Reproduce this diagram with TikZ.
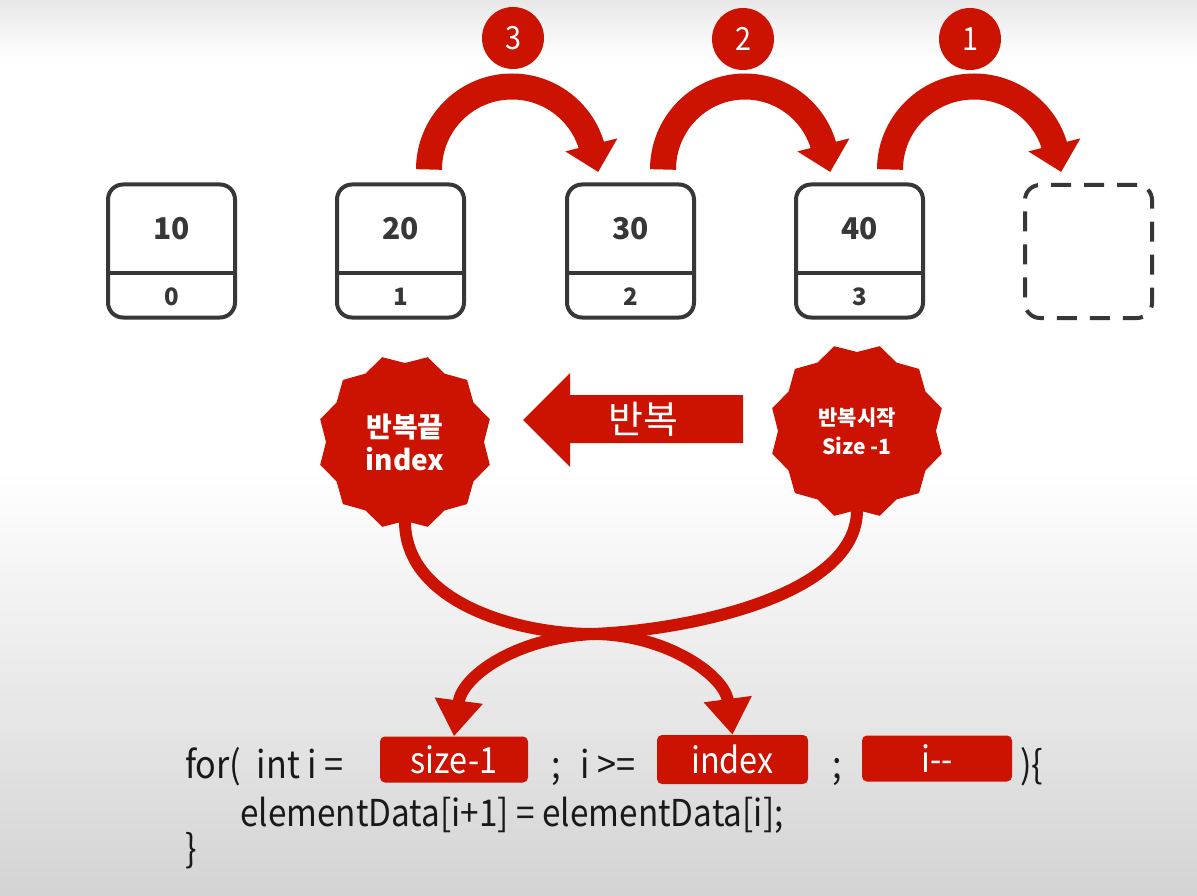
\documentclass[tikz,border=0pt]{standalone}
\usepackage{fontspec}
\setmainfont{Noto Sans CJK KR}
\newfontfamily\codefont[FakeStretch=0.9]{Noto Sans CJK KR}
\usetikzlibrary{shapes.geometric,arrows.meta,calc}
\definecolor{hred}{RGB}{204,18,0}
\definecolor{cellgray}{RGB}{55,55,55}
\begin{document}
\begin{tikzpicture}[x=1pt,y=-1pt,
  cell/.style={draw=cellgray,line width=4pt,rounded corners=15pt,minimum width=127pt,minimum height=133pt,inner sep=0pt},
  emptycell/.style={cell,dash pattern=on 20pt off 13pt},
  valtext/.style={text=cellgray,font=\bfseries\fontsize{30}{34}\selectfont},
  idxtext/.style={text=cellgray,font=\bfseries\fontsize{24}{28}\selectfont},
  numcirc/.style={circle,fill=hred,minimum size=62pt,inner sep=0pt,text=white,font=\codefont\fontsize{32}{36}\selectfont},
  bigarc/.style={draw=hred,line width=26pt,-{Triangle[width=52pt,length=28pt]}},
  burst/.style={star,star points=12,star point ratio=0.9,fill=hred,minimum size=158pt,inner sep=0pt,text=white,align=center},
  cross/.style={draw=hred,line width=12pt,-{Triangle[width=46pt,length=36pt]}},
  codebox/.style={fill=hred,rounded corners=5pt,minimum width=148pt,minimum height=46pt,inner sep=0pt,text=white,font=\codefont\fontsize{36}{40}\selectfont},
  code/.style={anchor=base west,inner sep=0pt,text=black!90,font=\codefont\fontsize{38}{44}\selectfont}
]
\useasboundingbox (0,0) rectangle (1197,896);
% background
\fill[white] (0,0) rectangle (1197,896);
\shade[top color=black!9,bottom color=white] (0,0) rectangle (1197,60);
\shade[top color=white,bottom color=black!17] (0,470) rectangle (1197,896);

% cells
\node[cell] (b1) at (171.5,251) {};
\node[cell] (b2) at (400.5,251) {};
\node[cell] (b3) at (630.5,251) {};
\node[cell] (b4) at (859.5,251) {};
\node[emptycell] (b5) at (1088.5,251.5) {};
\foreach \b in {b1,b2,b3,b4}{
  \draw[draw=cellgray,line width=4pt] ($(\b.west)+(0,22)$) -- ($(\b.east)+(0,22)$);
}
\node[valtext] (v1) at (171.5,229) {10};
\node[valtext] (v2) at (400.5,229) {20};
\node[valtext] (v3) at (630.5,229) {30};
\node[valtext] (v4) at (859.5,229) {40};
\node[idxtext] (i1) at (171.5,297) {0};
\node[idxtext] (i2) at (400.5,297) {1};
\node[idxtext] (i3) at (630.5,297) {2};
\node[idxtext] (i4) at (859.5,297) {3};

% top arcs
\draw[bigarc] ($(b2.north east)+(-37,-13)$) arc[start angle=180,end angle=345,x radius=83,y radius=83] -- ++(6,24);
\draw[bigarc] ($(b3.north east)+(-33,-13)$) arc[start angle=180,end angle=345,x radius=82,y radius=83] -- ++(6,24);
\draw[bigarc] ($(b4.north east)+(-35,-13)$) arc[start angle=180,end angle=345,x radius=84,y radius=83] -- ++(6,24);
\node[numcirc] (n3) at (513,38) {3};
\node[numcirc] (n2) at (743,39) {2};
\node[numcirc] (n1) at (970,39) {1};

% starbursts
\node[burst,font=\bfseries\fontsize{28}{33}\selectfont] (ls) at (405,442) {반복끝\\index};
\node[burst,font=\bfseries\fontsize{21}{29}\selectfont] (rs) at (857,431) {반복시작\\Size -1};

% left arrow
\fill[hred] (743,395) -- (570,395) -- (570,373) -- (523,420) -- (570,467) -- (570,443) -- (743,443) -- cycle;
\node[text=white,font=\fontsize{38}{42}\selectfont] (rep) at (643,419) {반복};

% code boxes
\node[codebox] (sz) at (454,759.5) {size-1};
\node[codebox,minimum width=151pt,minimum height=49pt] (idx) at (732.5,759.5) {index};
\node[codebox,minimum width=150pt] (dec) at (937,758.5) {i--};

% crossing arrows
\coordinate (xc) at (593,634);
\draw[cross] (ls.south) .. controls +(0,80) and (515,634) .. (xc) .. controls (665,634) and ($(idx.north)+(-8,-60)$) .. (idx.north);
\draw[cross] (rs.south) .. controls +(0,85) and (690,630) .. (xc) .. controls (515,638) and ($(sz.north)+(8,-60)$) .. (sz.north);

% code text
\node[code] (c1) at (185,778) {for(\ \ int i =};
\node[code] (c2) at (551,778) {;};
\node[code] (c3) at (580,778) {i >=};
\node[code] (c4) at (832,778) {;};
\node[code] (c5) at (1020,778) {)\{};
\node[code,font=\codefont\fontsize{37}{44}\selectfont] (c6) at (240,826) {elementData[i+1] = elementData[i];};
\node[code] (c7) at (185,862) {\}};
\end{tikzpicture}
\end{document}
